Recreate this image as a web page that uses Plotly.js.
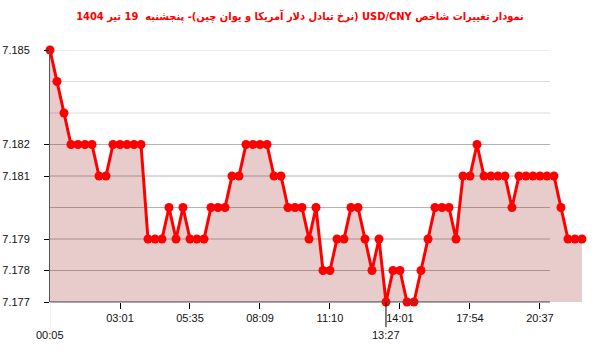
<!DOCTYPE html>
<html>
<head>
<meta charset="utf-8">
<script src="https://cdn.plot.ly/plotly-3.0.1.min.js"></script>
<style>html,body{margin:0;padding:0;background:#fff;}#chart{width:600px;height:352px;}</style>
</head>
<body>
<div id="chart"></div>
<script>
const titleText = "نمودار تغییرات شاخص USD/CNY (نرخ تبادل دلار آمریکا و یوان چین)- پنجشنبه  19 تیر 1404";

const values = [
  7.185,7.184,7.183,7.182,7.182,7.182,7.182,7.181,7.181,7.182,
  7.182,7.182,7.182,7.182,7.179,7.179,7.179,7.180,7.179,7.180,
  7.179,7.179,7.179,7.180,7.180,7.180,7.181,7.181,7.182,7.182,
  7.182,7.182,7.181,7.181,7.180,7.180,7.180,7.179,7.180,7.178,
  7.178,7.179,7.179,7.180,7.180,7.179,7.178,7.179,7.177,7.178,
  7.178,7.177,7.177,7.178,7.179,7.180,7.180,7.180,7.179,7.181,
  7.181,7.182,7.181,7.181,7.181,7.181,7.180,7.181,7.181,7.181,
  7.181,7.181,7.181,7.180,7.179,7.179,7.179
];

const xTickIndex = [10, 20, 30, 40, 50, 60, 70];
const xTickLabels = ["03:01", "05:35", "08:09", "11:10", "14:01", "17:54", "20:37"];
const firstTimeLabel = "00:05";
const minTimeLabel = "13:27";

const yTickVals = [7.185, 7.182, 7.181, 7.179, 7.178, 7.177];
const yTickText = ["7.185", "7.182", "7.181", "7.179", "7.178", "7.177"];
const gridVals = [7.177, 7.178, 7.179, 7.180, 7.181, 7.182, 7.183, 7.184, 7.185];

const xIdx = values.map((v, i) => i);
const minIdx = values.indexOf(Math.min.apply(null, values));

const gridEnd = 0.9363;
const shapes = [];
gridVals.forEach(g => {
  shapes.push({type:'line', xref:'paper', yref:'y', x0:0, x1:gridEnd, y0:g, y1:g,
    line:{color: g <= 7.1825 ? '#b4b4b4' : '#dcdcdc', width:1}, layer:'below'});
});
shapes.push({type:'line', xref:'paper', yref:'paper', x0:0, x1:gridEnd, y0:0, y1:0,
  line:{color:'#555', width:1}, layer:'above'});
shapes.push({type:'line', xref:'x', yref:'paper', x0:0, x1:0, y0:0, y1:-0.1,
  line:{color:'#dddddd', width:1}, layer:'above'});
shapes.push({type:'line', xref:'x', yref:'paper', x0:minIdx, x1:minIdx, y0:0, y1:-0.1,
  line:{color:'#000', width:1}, layer:'above'});

const tickFont = {family:'Liberation Sans, Arial, sans-serif', size:11, color:'#111'};

const annotations = [
  {x:0, xref:'x', y:0, yref:'paper', yanchor:'top', yshift:-25, text:firstTimeLabel,
   showarrow:false, font:tickFont},
  {x:minIdx, xref:'x', y:0, yref:'paper', yanchor:'top', yshift:-25, text:minTimeLabel,
   showarrow:false, font:tickFont}
];

const trace = {
  x: xIdx, y: values, type:'scatter', mode:'lines+markers',
  line:{color:'#ff0000', width:3},
  marker:{color:'#ff0000', size:9},
  fill:'tozeroy', fillcolor:'rgba(139,0,0,0.2)',
  cliponaxis:false, hoverinfo:'skip'
};

const layout = {
  width:600, height:352,
  margin:{l:50, r:16, t:50, b:50},
  paper_bgcolor:'#fff', plot_bgcolor:'rgba(0,0,0,0)',
  showlegend:false,
  title:{text:'\u202B' + titleText + '\u202C', x:0.5, xanchor:'center', y:0.955, yref:'container', yanchor:'middle',
    font:{family:'DejaVu Sans Condensed, DejaVu Sans, sans-serif', size:11, color:'#ff0000', weight:'bold'}},
  xaxis:{range:[0, 76.29], showgrid:false, zeroline:false, showline:false,
    tickmode:'array', tickvals:xTickIndex, ticktext:xTickLabels,
    ticks:'outside', ticklen:6, tickcolor:'#000', tickfont:tickFont, fixedrange:true},
  yaxis:{range:[7.177, 7.185], showgrid:false, zeroline:false, showline:true, linecolor:'#555', linewidth:1,
    tickmode:'array', tickvals:yTickVals, ticktext:yTickText,
    ticks:'outside', ticklen:5, tickcolor:'#000', tickfont:tickFont, ticklabelstandoff:12, fixedrange:true},
  shapes: shapes,
  annotations: annotations
};

Plotly.newPlot('chart', [trace], layout, {displayModeBar:false, staticPlot:true});
</script>
</body>
</html>
